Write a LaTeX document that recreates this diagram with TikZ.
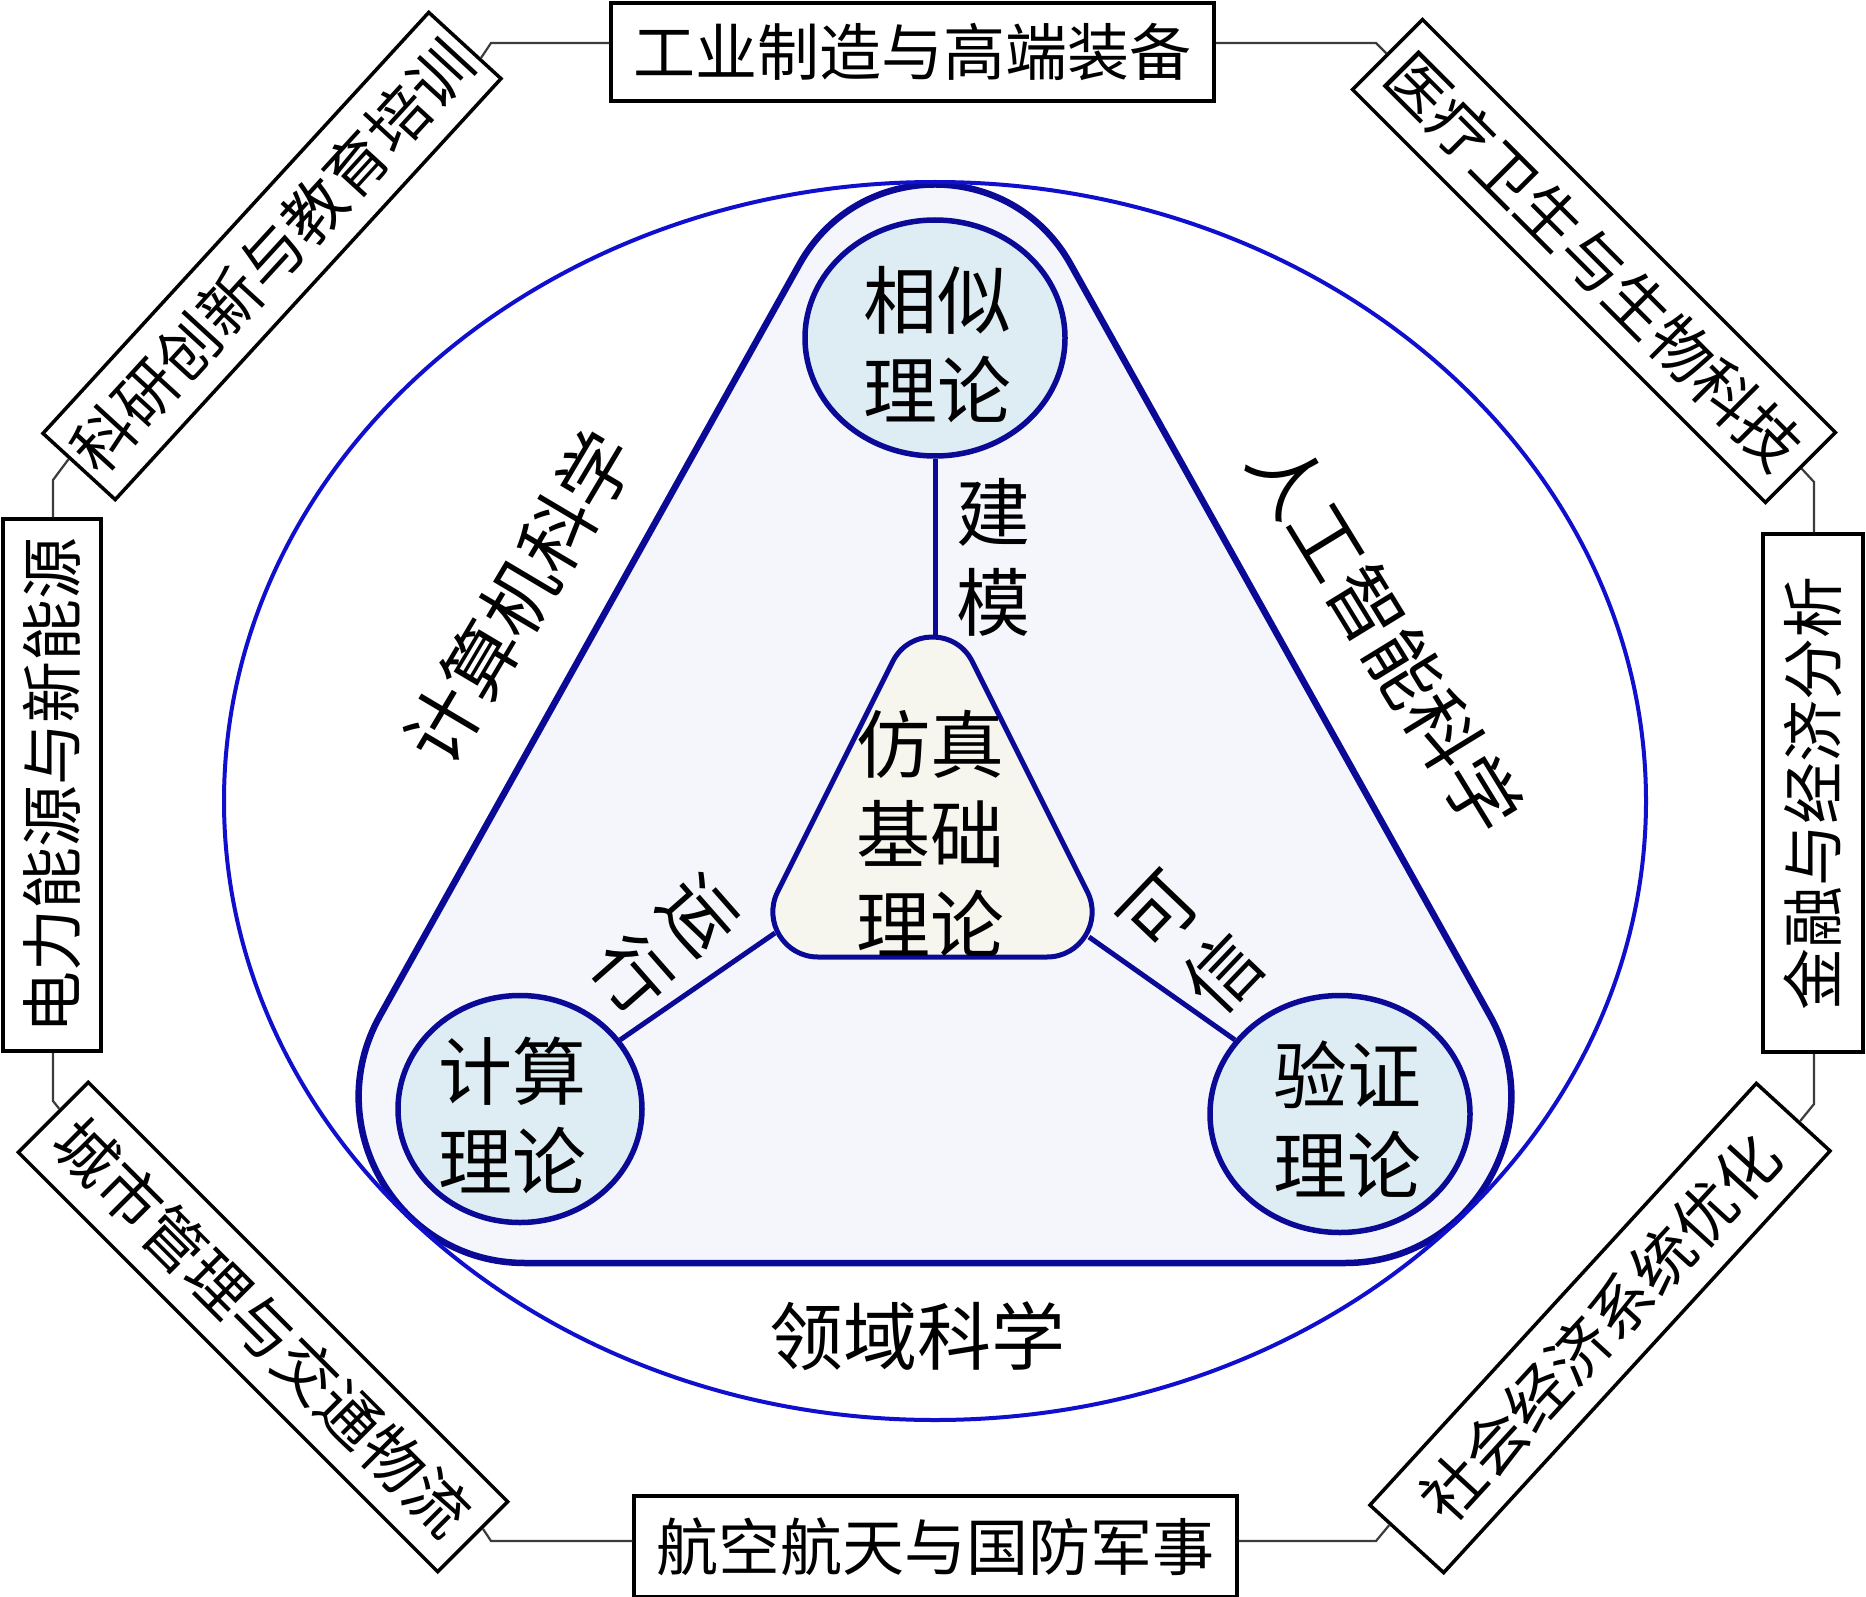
\documentclass[tikz,border=0pt]{standalone}
\usepackage{fontspec}
\setmainfont{Noto Sans CJK SC}
\usetikzlibrary{shapes.geometric,calc}
\definecolor{navy}{RGB}{10,10,150}
\definecolor{eblue}{RGB}{15,15,205}
\definecolor{lav}{RGB}{245,245,252}
\definecolor{circfill}{RGB}{222,236,243}
\definecolor{ivory}{RGB}{246,246,238}
\definecolor{linegray}{RGB}{60,60,60}
\begin{document}
\begin{tikzpicture}[x=1pt,y=-1pt,
  obox/.style={draw=black,line width=3.5pt,fill=white,inner sep=0pt,font=\fontsize{62}{70}\selectfont},
  conn/.style={draw=linegray,line width=2.2pt},
  theory/.style={ellipse,draw=navy,line width=5.5pt,fill=circfill,inner sep=0pt},
  big/.style={font=\fontsize{74}{90}\selectfont,align=center,inner sep=0pt},
  link/.style={draw=navy,line width=5pt}]
\useasboundingbox (0,0) rectangle (1866,1597);
\fill[white] (0,0) rectangle (1866,1597);

% outer application boxes
\node[obox,minimum width=603pt,minimum height=98pt] (top) at (912.5,52) {工业制造与高端装备};
\node[obox,minimum width=603pt,minimum height=101pt] (bot) at (935.5,1546.5) {航空航天与国防军事};
\node[obox,rotate=90,minimum width=532pt,minimum height=98pt] (left) at (52,785) {电力能源与新能源};
\node[obox,rotate=90,minimum width=518pt,minimum height=100pt] (right) at (1813,793) {金融与经济分析};
\node[obox,rotate=47.5,minimum width=571pt,minimum height=98pt] (tl) at (272,256) {科研创新与教育培训};
\node[obox,rotate=-45,minimum width=584pt,minimum height=99pt] (tr) at (1594,261) {医疗卫生与生物科技};
\node[obox,rotate=-45,minimum width=593pt,minimum height=99pt] (bl) at (263,1327) {城市管理与交通物流};
\node[obox,rotate=47.5,minimum width=572pt,minimum height=100pt] (br) at (1600,1328) {社会经济系统优化};

% octagon connectors
\coordinate (k1) at (491,43);
\coordinate (k2) at (53,480);
\coordinate (k3) at (53,1101);
\coordinate (k4) at (491,1541);
\coordinate (k5) at (1376,1541);
\coordinate (k6) at (1814,1104);
\coordinate (k7) at (1814,482);
\coordinate (k8) at (1376,43);
\draw[conn] (top.west |- k1) -- (k1) -- ($(tl.east)!0.4!(tl.south east)$);
\draw[conn] ($(tl.west)!0.25!(tl.north west)$) -- (k2) -- (k2 |- left.east);
\draw[conn] (k3 |- left.west) -- (k3) -- ($(bl.west)!0.2!(bl.north west)$);
\draw[conn] ($(bl.east)!0.25!(bl.north east)$) -- (k4) -- (k4 -| bot.west);
\draw[conn] (k5 -| bot.east) -- (k5) -- ($(br.west)!0.43!(br.north west)$);
\draw[conn] ($(br.east)!0.15!(br.south east)$) -- (k6) -- (k6 |- right.west);
\draw[conn] (k7 |- right.east) -- (k7) -- (tr.east);
\draw[conn] (tr.west) -- (k8) -- (k8 -| top.east);

% big rounded triangle (circular corners)
\coordinate (TA) at (935,21.3);
\coordinate (TL) at (242,1263);
\coordinate (TR) at (1628,1263);
\coordinate (TM) at (935,1263);
\coordinate (TRa) at ($(TR)!283pt!(TL)$);
\coordinate (TRb) at ($(TR)!283pt!(TA)$);
\coordinate (TAa) at ($(TA)!278pt!(TR)$);
\coordinate (TAb) at ($(TA)!278pt!(TL)$);
\coordinate (TLa) at ($(TL)!283pt!(TA)$);
\coordinate (TLb) at ($(TL)!283pt!(TR)$);
\filldraw[fill=lav,draw=navy,line width=6.5pt,line join=round]
  (TM) -- (TRa) .. controls ($(TRa)!0.448!(TR)$) and ($(TRb)!0.448!(TR)$) .. (TRb)
  -- (TAa) .. controls ($(TAa)!0.437!(TA)$) and ($(TAb)!0.437!(TA)$) .. (TAb)
  -- (TLa) .. controls ($(TLa)!0.448!(TL)$) and ($(TLb)!0.448!(TL)$) .. (TLb)
  -- cycle;

% domain ellipse
\node[ellipse,draw=eblue,line width=4pt,minimum width=1422pt,minimum height=1238pt,inner sep=0pt] (dom) at (935,801) {};

% central rounded triangle (circular corners)
\coordinate (CA) at (932.5,582);
\coordinate (CL) at (745,957);
\coordinate (CR) at (1120,957);
\coordinate (CM) at (932.5,957);
\coordinate (CRa) at ($(CR)!73pt!(CL)$);
\coordinate (CRb) at ($(CR)!73pt!(CA)$);
\coordinate (CAa) at ($(CA)!89pt!(CR)$);
\coordinate (CAb) at ($(CA)!89pt!(CL)$);
\coordinate (CLa) at ($(CL)!73pt!(CA)$);
\coordinate (CLb) at ($(CL)!73pt!(CR)$);
\filldraw[fill=ivory,draw=navy,line width=5pt,line join=round]
  (CM) -- (CRa) .. controls ($(CRa)!0.46!(CR)$) and ($(CRb)!0.46!(CR)$) .. (CRb)
  -- (CAa) .. controls ($(CAa)!0.412!(CA)$) and ($(CAb)!0.412!(CA)$) .. (CAb)
  -- (CLa) .. controls ($(CLa)!0.46!(CL)$) and ($(CLb)!0.46!(CL)$) .. (CLb)
  -- cycle;
\coordinate (ctop) at (935,637);
\coordinate (cl) at (775,933);
\coordinate (cr) at (1089,937);

% theory circles
\node[theory,minimum width=260pt,minimum height=236pt] (sim) at (935,338) {};
\node[theory,minimum width=244pt,minimum height=227pt] (comp) at (520,1109) {};
\node[theory,minimum width=260pt,minimum height=237pt] (ver) at (1340,1114) {};
\draw[link] (sim) -- (ctop);
\draw[link] (comp) -- (cl);
\draw[link] (ver) -- (cr);

% texts
\node[big] (simt) at (937,345) {相似\\理论};
\node[big] (compt) at (512,1115) {计算\\理论};
\node[big] (vert) at (1347,1119) {验证\\理论};
\node[big] (core) at (930,834) {仿真\\基础\\理论};
\node[big] (jm) at (993,557) {建\\模};
\node[big,rotate=-48.7] (yx) at (665,945) {运\\行};
\node[big,rotate=46.3] (kx) at (1192,943) {可\\信};
\node[big,rotate=59.3] (cs) at (519,597) {计算机科学};
\node[big,rotate=-58.5] (ai) at (1386,636) {人工智能科学};
\node[big] (ds) at (917,1336) {领域科学};
\end{tikzpicture}
\end{document}
